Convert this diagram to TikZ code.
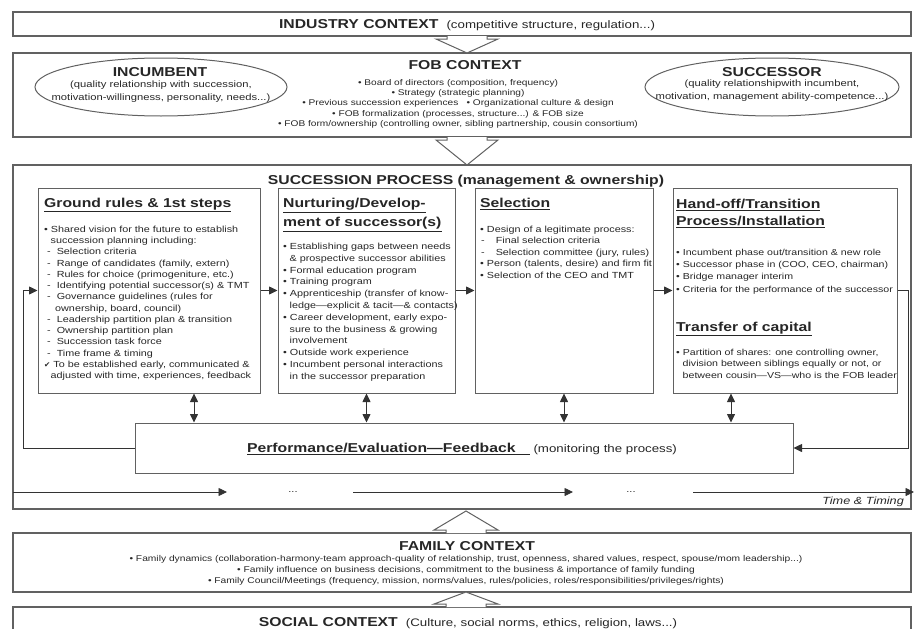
\documentclass[tikz,border=0pt]{standalone}
\usepackage{fontspec}
\setmainfont{Liberation Sans}[FakeStretch=1.22]
\newfontfamily\chkfont{DejaVu Sans}
\usetikzlibrary{arrows.meta,shapes.geometric}
\definecolor{linec}{gray}{0.38}
\definecolor{textc}{gray}{0.15}
\newcommand\fs[2]{\fontsize{#1}{#2}\selectfont}
\newcommand\chevdown[3]{%
  \filldraw[fill=white, draw=linec, line width=1pt] (#1-20,#2) -- (#1-20,#2+3) -- (#1-31,#2+3) -- (#1,#3) -- (#1+31,#2+3) -- (#1+20,#2+3) -- (#1+20,#2);}
\newcommand\chevup[3]{%
  \filldraw[fill=white, draw=linec, line width=1pt] (#1-20,#2) -- (#1-20,#2-3) -- (#1-32,#2-3) -- (#1,#3) -- (#1+32,#2-3) -- (#1+20,#2-3) -- (#1+20,#2);}
\begin{document}
\begin{tikzpicture}[x=1pt,y=-1pt,
  ctx/.style={draw=linec, line width=1.2pt, inner sep=0pt},
  pbox/.style={draw=linec, line width=1pt, inner sep=0pt},
  ttl/.style={inner sep=0pt, text=textc, font=\bfseries\fs{12.9}{15}},
  body/.style={inner sep=0pt, text=textc, align=left, anchor=north west},
  conn/.style={draw=black!80, line width=0.8pt},
  arr/.style={conn, -{Triangle[length=8.5pt,width=8pt]}},
  darr/.style={conn, {Triangle[length=8.5pt,width=8pt]}-{Triangle[length=8.5pt,width=8pt]}},
  dots/.style={inner sep=0pt, text=textc, font=\fs{9}{10}}]
\useasboundingbox (0,0) rectangle (916,629);

% context boxes
\node[ctx, minimum width=898pt, minimum height=24pt] (ind) at (462,24) {};
\node[ctx, minimum width=898pt, minimum height=84pt] (fob) at (462,95) {};
\node[ctx, minimum width=898pt, minimum height=344pt] (succ) at (462,337) {};
\node[ctx, minimum width=898pt, minimum height=59pt] (fam) at (462,562.5) {};
\node[ctx, minimum width=898pt, minimum height=40pt] (soc) at (462,627) {};

% chevrons
\chevdown{467}{36}{53}
\chevdown{467}{137}{165}
\chevup{466}{533}{511}
\chevup{466}{607}{592}

% industry
\node[ttl, anchor=base] (indt) at (467,28.6) {INDUSTRY CONTEXT {\mdseries\fs{10.9}{12} (competitive structure, regulation...)}};

% FOB context
\node[ttl, anchor=base] (fobt) at (465,69.6) {FOB CONTEXT};
\node[body, align=center, anchor=north, font=\fs{8.3}{10.3}] (fobb) at (458,79) {%
• Board of directors (composition, frequency)\\
• Strategy (strategic planning)\\
• Previous succession experiences\quad • Organizational culture \& design\\
• FOB formalization (processes, structure...) \& FOB size\\
• FOB form/ownership (controlling owner, sibling partnership, cousin consortium)};

\node[draw=linec, line width=1pt, ellipse, minimum width=252pt, minimum height=58pt, inner sep=0pt] (inc) at (161,87) {};
\node[ttl, anchor=base] (inct) at (160,76.6) {INCUMBENT};
\node[body, align=center, anchor=north, font=\fs{9.2}{13}] (incb) at (161,80.5) {(quality relationship with succession,\\motivation-willingness, personality, needs...)};

\node[draw=linec, line width=1pt, ellipse, minimum width=254pt, minimum height=58pt, inner sep=0pt] (suc) at (772,87) {};
\node[ttl, anchor=base] (suct) at (772,76.6) {SUCCESSOR};
\node[body, align=center, anchor=north, font=\fs{9.2}{13}] (sucb) at (772,79.5) {(quality relationshipwith incumbent,\\motivation, management ability-competence...)};

% succession process
\node[ttl, anchor=base] (succt) at (466,184.6) {SUCCESSION PROCESS (management \& ownership)};

\node[pbox, minimum width=222pt, minimum height=205pt] (b1) at (149,290.5) {};
\node[pbox, minimum width=177pt, minimum height=205pt] (b2) at (366.5,290.5) {};
\node[pbox, minimum width=178pt, minimum height=205pt] (b3) at (564,290.5) {};
\node[pbox, minimum width=224pt, minimum height=205pt] (b4) at (785,290.5) {};
\node[pbox, minimum width=658pt, minimum height=50pt] (perf) at (464,448) {};

\node[ttl, anchor=base west] (b1t) at (44,207.6) {\underline{Ground rules \& 1st steps}};
\node[body, font=\fs{8.85}{11.25}] (b1b) at (44,225.8) {%
• Shared vision for the future to establish\\
\hspace*{6.5pt}succession planning including:\\
\hspace*{3pt}-\hspace*{6pt}Selection criteria\\
\hspace*{3pt}-\hspace*{6pt}Range of candidates (family, extern)\\
\hspace*{3pt}-\hspace*{6pt}Rules for choice (primogeniture, etc.)\\
\hspace*{3pt}-\hspace*{6pt}Identifying potential successor(s) \& TMT\\
\hspace*{3pt}-\hspace*{6pt}Governance guidelines (rules for\\
\hspace*{11pt}ownership, board, council)\\
\hspace*{3pt}-\hspace*{6pt}Leadership partition plan \& transition\\
\hspace*{3pt}-\hspace*{6pt}Ownership partition plan\\
\hspace*{3pt}-\hspace*{6pt}Succession task force\\
\hspace*{3pt}-\hspace*{6pt}Time frame \& timing\\
{\chkfont\fs{7.5}{11}✔} To be established early, communicated \&\\
\hspace*{6.5pt}adjusted with time, experiences, feedback};

\node[ttl, body, font=\bfseries\fs{12.9}{19}] (b2t) at (283,198.2) {\underline{Nurturing/Develop-}\\\underline{ment of successor(s)}};
\node[body, font=\fs{8.85}{11.8}] (b2b) at (283,242.8) {%
• Establishing gaps between needs\\
\hspace*{6.5pt}\& prospective successor abilities\\
• Formal education program\\
• Training program\\
• Apprenticeship (transfer of know-\\
\hspace*{6.5pt}ledge—explicit \& tacit—\& contacts)\\
• Career development, early expo-\\
\hspace*{6.5pt}sure to the business \& growing\\
\hspace*{6.5pt}involvement\\
• Outside work experience\\
• Incumbent personal interactions\\
\hspace*{6.5pt}in the successor preparation};

\node[ttl, anchor=base west] (b3t) at (480,207.6) {\underline{Selection}};
\node[body, font=\fs{8.85}{11.5}] (b3b) at (480,225.8) {%
• Design of a legitimate process:\\
\hspace*{1pt}-\hspace*{11pt}Final selection criteria\\
\hspace*{1pt}-\hspace*{11pt}Selection committee (jury, rules)\\
• Person (talents, desire) and firm fit\\
• Selection of the CEO and TMT};

\node[ttl, body, font=\bfseries\fs{12.9}{17}] (b4t) at (676,199.2) {\underline{Hand-off/Transition}\\\underline{Process/Installation}};
\node[body, font=\fs{8.7}{12.3}] (b4b) at (676,248.8) {%
• Incumbent phase out/transition \& new role\\
• Successor phase in (COO, CEO, chairman)\\
• Bridge manager interim\\
• Criteria for the performance of the successor};
\node[ttl, anchor=base west] (b4t2) at (676,331.6) {\underline{Transfer of capital}};
\node[body, font=\fs{8.7}{11.5}] (b4b2) at (676,348.8) {%
• Partition of shares: one controlling owner,\\
\hspace*{6.5pt}division between siblings equally or not, or\\
\hspace*{6.5pt}between cousin—VS—who is the FOB leader};

\node[ttl, anchor=base] (perft) at (462,452.6) {\underline{Performance/Evaluation—Feedback\hspace*{14pt}}\hspace*{4pt}{\mdseries\fs{10.9}{12}(monitoring the process)}};

% connectors
\draw[arr] (b1) -- (b2);
\draw[arr] (b2) -- (b3);
\draw[arr] (b3) -- (b4);
\coordinate (fbl) at (23,448);
\draw[arr] (perf.west) -- (fbl) |- (b1.west);
\coordinate (fbr) at (908,290.5);
\draw[arr] (b4.east) -- (fbr) |- (perf.east);
\draw[darr] ([xshift=45pt]b1.south) -- ([xshift=45pt]b1.south |- perf.north);
\draw[darr] (b2.south) -- (b2.south |- perf.north);
\draw[darr] (b3.south) -- (b3.south |- perf.north);
\draw[darr] ([xshift=-54pt]b4.south) -- ([xshift=-54pt]b4.south |- perf.north);

% time line
\coordinate (t1a) at (13,492);
\coordinate (t1b) at (227,492);
\coordinate (t2a) at (353,492);
\coordinate (t2b) at (573,492);
\coordinate (t3a) at (693,492);
\coordinate (t3b) at (914,492);
\draw[arr] (t1a) -- (t1b);
\node[dots] (dots1) at (293,492) {...};
\draw[arr] (t2a) -- (t2b);
\node[dots] (dots2) at (631,492) {...};
\draw[arr] (t3a) -- (t3b);
\node[inner sep=0pt, text=textc, anchor=base east, font=\itshape\fs{10.4}{12}] (timet) at (904,504.8) {Time \& Timing};

% family
\node[ttl, anchor=base] (famt) at (467,550.6) {FAMILY CONTEXT};
\node[body, align=center, anchor=north, font=\fs{8.4}{11}] (famb) at (466,554.9) {%
• Family dynamics (collaboration-harmony-team approach-quality of relationship, trust, openness, shared values, respect, spouse/mom leadership...)\\
• Family influence on business decisions, commitment to the business \& importance of family funding\\
• Family Council/Meetings (frequency, mission, norms/values, rules/policies, roles/responsibilities/privileges/rights)};

% social
\node[ttl, anchor=base] (soct) at (468,626.6) {SOCIAL CONTEXT {\mdseries\fs{10.9}{12} (Culture, social norms, ethics, religion, laws...)}};
\end{tikzpicture}
\end{document}
